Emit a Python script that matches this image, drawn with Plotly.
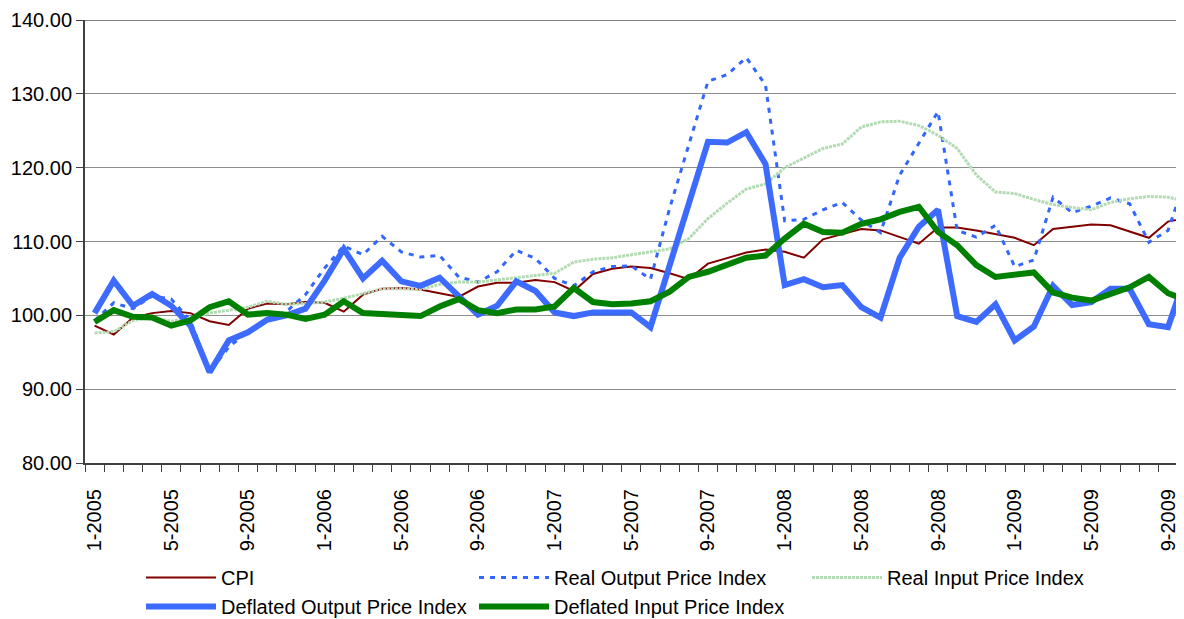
import plotly.graph_objects as go

months = [f"{m}-{y}" for y in range(2005, 2010) for m in range(1, 13)][:58]

cpi = [98.6, 97.4, 99.7, 100.3, 100.6, 100.3, 99.2, 98.7, 100.9, 101.6, 101.5, 101.8,
       101.7, 100.5, 102.8, 103.6, 103.7, 103.5, 103.0, 102.5, 103.9, 104.4, 104.4, 104.8,
       104.5, 103.3, 105.6, 106.3, 106.6, 106.4, 105.7, 104.9, 107.0, 107.8, 108.5, 108.9,
       108.6, 107.8, 110.3, 111.0, 111.7, 111.5, 110.6, 109.7, 111.9, 111.9, 111.5, 111.0,
       110.5, 109.5, 111.7, 112.0, 112.3, 112.2, 111.4, 110.5, 112.7, 113.2]

real_output = [99.3, 101.7, 100.9, 102.6, 102.2, 99.3, 92.3, 95.7, 97.8, 99.6, 100.5, 102.8,
               106.4, 109.4, 108.2, 110.7, 108.6, 107.9, 108.1, 105.2, 104.5, 105.9, 108.8, 107.7,
               105.0, 104.0, 105.9, 106.6, 106.7, 104.9, 114.5, 123.0, 131.7, 132.6, 134.9, 131.2,
               112.8, 113.0, 114.3, 115.3, 112.9, 111.2, 119.0, 123.3, 127.6, 111.5, 110.6, 112.2,
               106.6, 107.5, 116.0, 113.9, 114.8, 115.9, 115.1, 109.9, 111.5, 119.2]

real_input = [97.6, 97.8, 99.3, 99.7, 99.2, 99.6, 100.3, 100.7, 101.1, 101.9, 101.5, 101.6,
              101.8, 102.3, 103.0, 103.6, 103.6, 103.5, 104.2, 104.5, 104.5, 104.8, 105.1, 105.5,
              105.7, 107.2, 107.6, 107.8, 108.2, 108.5, 109.0, 110.4, 113.1, 115.2, 117.1, 117.8,
              120.0, 121.3, 122.6, 123.2, 125.5, 126.2, 126.3, 125.7, 124.4, 122.6, 119.0, 116.7,
              116.5, 115.7, 115.0, 114.6, 114.3, 115.3, 115.8, 116.1, 116.0, 115.4]

deflated_output = [100.3, 104.7, 101.3, 102.9, 101.3, 98.6, 92.3, 96.6, 97.7, 99.4, 100.0, 100.9,
                   104.7, 109.0, 105.0, 107.4, 104.6, 104.0, 105.1, 102.7, 100.1, 101.3, 104.6, 103.3,
                   100.4, 99.9, 100.4, 100.4, 100.4, 98.4, 107.0, 115.2, 123.5, 123.4, 124.8, 120.5,
                   104.1, 104.9, 103.8, 104.1, 101.1, 99.7, 107.8, 112.0, 114.3, 99.9, 99.1, 101.5,
                   96.6, 98.5, 104.0, 101.4, 101.8, 103.6, 103.6, 98.8, 98.4, 106.0]

deflated_input = [99.1, 100.7, 99.8, 99.7, 98.6, 99.3, 101.1, 101.9, 100.1, 100.3, 100.1, 99.5,
                  100.1, 101.9, 100.3, 100.2, 99.9, 99.9, 101.2, 102.2, 100.7, 100.3, 100.8, 100.8,
                  101.2, 103.7, 101.8, 101.5, 101.6, 101.9, 103.2, 105.2, 105.9, 106.8, 107.8, 108.1,
                  110.4, 112.4, 111.3, 111.2, 112.4, 113.0, 114.0, 114.7, 111.3, 109.5, 106.8, 105.2,
                  105.5, 105.8, 103.1, 102.4, 102.0, 102.8, 103.8, 105.2, 103.0, 102.0]

x = list(range(len(months)))
tick_idx = list(range(0, len(months), 4))
tick_text = [months[i] for i in tick_idx]

FONT = "Liberation Sans, Arial, sans-serif"

fig = go.Figure()
fig.add_trace(go.Scatter(x=x, y=cpi, name="CPI", mode="lines",
                         line=dict(color="#800000", width=2)))
fig.add_trace(go.Scatter(x=x, y=real_output, name="Real Output Price Index", mode="lines",
                         line=dict(color="#3366FF", width=3, dash="5px,6px")))
fig.add_trace(go.Scatter(x=x, y=real_input, name="Real Input Price Index", mode="lines",
                         line=dict(color="#b3dbb3", width=3, dash="3px,1px")))
fig.add_trace(go.Scatter(x=x, y=deflated_output, name="Deflated Output Price Index", mode="lines",
                         line=dict(color="#3D6BFF", width=6)))
fig.add_trace(go.Scatter(x=x, y=deflated_input, name="Deflated Input Price Index", mode="lines",
                         line=dict(color="#008000", width=6)))

fig.update_layout(
    width=1184, height=619,
    margin=dict(l=77, r=0, t=12, b=164, autoexpand=False),
    paper_bgcolor="white", plot_bgcolor="white",
    font=dict(family=FONT, size=20, color="black"),
    showlegend=True,
    legend=dict(orientation="h", x=0.0506, xanchor="left", y=-0.2145, yanchor="top",
                entrywidth=248, entrywidthmode="pixels", itemwidth=70,
                font=dict(family=FONT, size=20, color="black"),
                bgcolor="rgba(0,0,0,0)", traceorder="normal"),
    shapes=[dict(type="line", xref="paper", yref="y", x0=0, x1=1, y0=140, y1=140,
                 line=dict(color="#808080", width=2))],
)

fig.update_xaxes(
    range=[-0.5, 57.25], tickmode="array", tickvals=tick_idx, ticktext=tick_text,
    tickangle=-90, ticks="", ticklabelstandoff=16, showgrid=False, zeroline=False,
    showline=True, linecolor="#404040", linewidth=2, automargin=False,
    tickfont=dict(family=FONT, size=20, color="black"),
    minor=dict(tickmode="linear", tick0=-0.5, dtick=1, ticks="outside", ticklen=7,
               tickcolor="#404040", tickwidth=1, showgrid=False),
)
fig.update_yaxes(
    range=[80, 140], dtick=10, tickformat=".2f", ticks="outside", ticklen=7,
    tickcolor="#404040", showgrid=True, gridcolor="#8c8c8c", gridwidth=1,
    zeroline=False, showline=True, linecolor="#404040", linewidth=2, automargin=False,
    tickfont=dict(family=FONT, size=20, color="black"),
)

fig.write_html("out.html")
